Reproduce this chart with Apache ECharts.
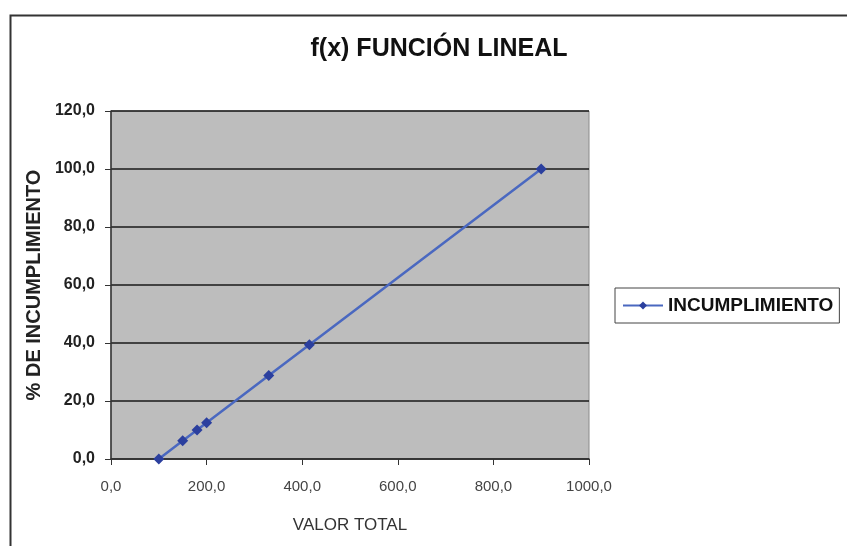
<!DOCTYPE html>
<html>
<head>
<meta charset="utf-8">
<script src="https://cdn.jsdelivr.net/npm/echarts@6/dist/echarts.min.js"></script>
<style>
  html, body { margin: 0; padding: 0; background: #ffffff; }
  #chart { width: 847px; height: 546px; }
</style>
</head>
<body>
<div id="chart"></div>
<script>
// Valor total vs. % de incumplimiento (función lineal)
const valorTotal = [100, 150, 180, 200, 330, 415, 900];
const incumplimiento = [0, 6.3, 10, 12.5, 28.8, 39.4, 100];
const xTicks = [0, 200, 400, 600, 800, 1000];
const yTicks = [0, 20, 40, 60, 80, 100, 120];

const points = valorTotal.map((v, i) => [v, incumplimiento[i]]);
const fmt = v => v.toFixed(1).replace('.', ',');
const FONT = 'Liberation Sans, Arial, sans-serif';

const chart = echarts.init(document.getElementById('chart'));
chart.setOption({
  animation: false,
  backgroundColor: '#ffffff',
  title: {
    text: 'f(x) FUNCIÓN LINEAL',
    left: 434, top: 32, textAlign: 'center',
    textStyle: { fontFamily: FONT, fontWeight: 'bold', fontSize: 25, color: '#111' }
  },
  graphic: [
    { type: 'rect', shape: { x: 10.5, y: 15.5, width: 900, height: 600 }, style: { fill: 'none', stroke: '#333', lineWidth: 2 }, z: 0 }
  ],
  legend: {
    left: 615, top: 288,
    itemWidth: 40, itemHeight: 10, itemGap: 5,
    padding: [8, 6, 8, 7],
    borderColor: '#444', borderWidth: 1,
    backgroundColor: '#fff',
    textStyle: { fontFamily: FONT, fontWeight: 'bold', fontSize: 19, color: '#111' },
    data: ['INCUMPLIMIENTO']
  },
  grid: {
    left: 111, top: 111, width: 478, height: 348,
    show: true, backgroundColor: '#bdbdbd', borderColor: '#8a8a8a', borderWidth: 1
  },
  xAxis: {
    type: 'value', min: 0, max: 1000, interval: 200,
    name: 'VALOR TOTAL', nameLocation: 'middle', nameGap: 58,
    nameTextStyle: { fontFamily: FONT, fontSize: 17, color: '#333' },
    axisLine: { show: true, onZero: false, lineStyle: { color: '#333', width: 1.5 } },
    axisTick: { show: true, inside: false, length: 6, lineStyle: { color: '#333' } },
    axisLabel: { margin: 20, fontFamily: FONT, fontSize: 15, color: '#444', formatter: fmt },
    splitLine: { show: false }
  },
  yAxis: {
    type: 'value', min: 0, max: 120, interval: 20,
    name: '% DE INCUMPLIMIENTO', nameLocation: 'middle', nameGap: 66, nameRotate: 90,
    nameTextStyle: { fontFamily: FONT, fontWeight: 'bold', fontSize: 20, color: '#222' },
    axisLine: { show: true, lineStyle: { color: '#333', width: 1.5 } },
    axisTick: { show: true, inside: false, length: 6, lineStyle: { color: '#333' } },
    axisLabel: { margin: 16, fontFamily: FONT, fontWeight: 'bold', fontSize: 16, color: '#222', formatter: fmt },
    splitLine: { show: true, lineStyle: { color: '#1a1a1a', width: 1.5 } }
  },
  series: [{
    name: 'INCUMPLIMIENTO',
    type: 'line',
    data: points,
    symbol: 'diamond', symbolSize: 11,
    itemStyle: { color: '#2b3f9e' },
    lineStyle: { color: '#4a68c0', width: 2.5 },
    z: 5
  }]
});
</script>
</body>
</html>
